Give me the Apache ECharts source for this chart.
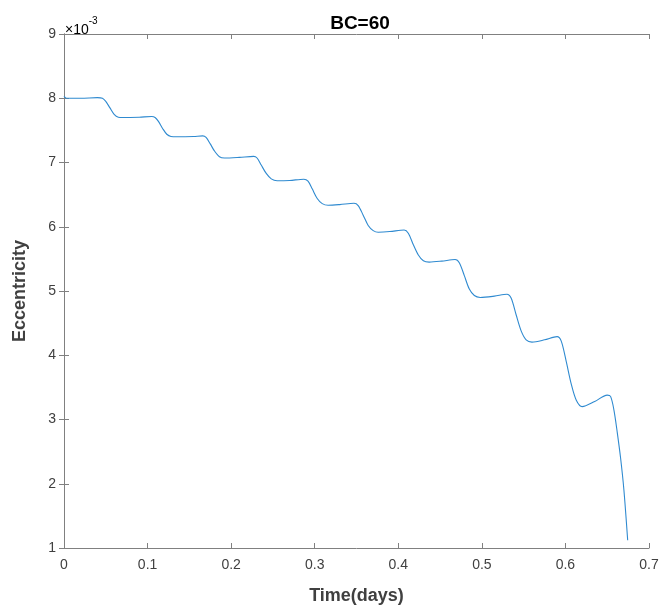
<!DOCTYPE html>
<html>
<head>
<meta charset="utf-8">
<script src="https://cdn.jsdelivr.net/npm/echarts@6/dist/echarts.min.js"></script>
<style>html,body{margin:0;padding:0;background:#fff}#c{width:660px;height:609px}</style>
</head>
<body>
<div id="c"></div>
<script>
const titleText = 'BC=60';
const xLabel = 'Time(days)';
const yLabel = 'Eccentricity';
const xTicks = [0, 0.1, 0.2, 0.3, 0.4, 0.5, 0.6, 0.7];
const yTicks = [1, 2, 3, 4, 5, 6, 7, 8, 9];
const timeDays = [0,0.003,0.02,0.04,0.046,0.05,0.055,0.06,0.065,0.07,0.09,0.105,0.109,0.113,0.118,0.123,0.128,0.135,0.155,0.166,0.170,0.175,0.180,0.186,0.192,0.21,0.227,0.231,0.236,0.242,0.248,0.255,0.27,0.287,0.292,0.297,0.303,0.309,0.316,0.33,0.347,0.352,0.358,0.364,0.370,0.376,0.39,0.407,0.412,0.418,0.424,0.430,0.437,0.452,0.468,0.473,0.479,0.485,0.491,0.498,0.515,0.530,0.535,0.541,0.547,0.553,0.560,0.575,0.590,0.595,0.601,0.607,0.613,0.620,0.635,0.650,0.654,0.658,0.662,0.666,0.670,0.6745];
const eccentricity = [8.03,8.0,8.0,8.01,8.0,7.95,7.85,7.75,7.705,7.70,7.705,7.715,7.70,7.64,7.53,7.44,7.405,7.40,7.405,7.415,7.39,7.29,7.18,7.09,7.07,7.08,7.095,7.07,6.96,6.83,6.745,6.715,6.72,6.74,6.71,6.59,6.44,6.36,6.335,6.345,6.365,6.33,6.18,6.02,5.94,5.915,5.925,5.95,5.90,5.72,5.56,5.47,5.45,5.465,5.49,5.44,5.24,5.03,4.93,4.90,4.92,4.95,4.89,4.63,4.38,4.24,4.205,4.24,4.29,4.22,3.90,3.55,3.30,3.20,3.28,3.38,3.36,3.15,2.80,2.40,1.90,1.12];

const axisColor = '#808080';
const labelColor = '#404040';
const font = 'Liberation Sans, Arial, sans-serif';
const chart = echarts.init(document.getElementById('c'));
const data = timeDays.map((t, i) => [t, eccentricity[i]]);
const commonX = {
  type: 'value', min: xTicks[0], max: xTicks[xTicks.length - 1], interval: 0.1,
  axisLine: { show: true, lineStyle: { color: axisColor, width: 1 } },
  axisTick: { show: true, inside: true, length: 5, lineStyle: { color: axisColor } },
  splitLine: { show: false }
};
const commonY = {
  type: 'value', min: yTicks[0], max: yTicks[yTicks.length - 1], interval: 1,
  axisLine: { show: true, lineStyle: { color: axisColor, width: 1 } },
  axisTick: { show: true, inside: true, length: 5, lineStyle: { color: axisColor } },
  splitLine: { show: false }
};
chart.setOption({
  animation: false,
  backgroundColor: '#fff',
  title: { text: titleText, left: 355, top: 9, textAlign: 'center',
    textStyle: { fontFamily: font, fontSize: 19, fontWeight: 'bold', color: '#000' } },
  grid: { left: 64, right: 11, top: 34, bottom: 61, containLabel: false, outerBoundsMode: 'none' },
  xAxis: [
    Object.assign({}, commonX, { position: 'bottom',
      axisLabel: { show: true, color: labelColor, fontFamily: font, fontSize: 14, margin: 10,
        formatter: v => String(Math.round(v * 10) / 10) },
      name: xLabel, nameLocation: 'middle', nameGap: 39,
      nameTextStyle: { fontFamily: font, fontSize: 18, fontWeight: 'bold', color: labelColor } }),
    Object.assign({}, commonX, { position: 'top', axisLabel: { show: false } })
  ],
  yAxis: [
    Object.assign({}, commonY, { position: 'left',
      axisLabel: { show: true, color: labelColor, fontFamily: font, fontSize: 14, margin: 8 },
      name: yLabel, nameLocation: 'middle', nameGap: 35,
      nameTextStyle: { fontFamily: font, fontSize: 18, fontWeight: 'bold', color: labelColor } }),
    Object.assign({}, commonY, { position: 'right', axisLabel: { show: false } })
  ],
  graphic: [{
    type: 'text', left: 65, top: 16,
    style: {
      text: '{a|×10}{b|-3}',
      rich: {
        a: { fontFamily: font, fontSize: 14, color: labelColor, verticalAlign: 'bottom', padding: [7,0,0,0] },
        b: { fontFamily: font, fontSize: 10, color: labelColor, verticalAlign: 'top', padding: [0,0,7,0] }
      }
    }
  }],
  series: [{
    type: 'line', xAxisIndex: 0, yAxisIndex: 0, data: data,
    showSymbol: false, smooth: 0.3,
    lineStyle: { color: '#2f8ad0', width: 1.1 }
  }]
});
</script>
</body>
</html>
